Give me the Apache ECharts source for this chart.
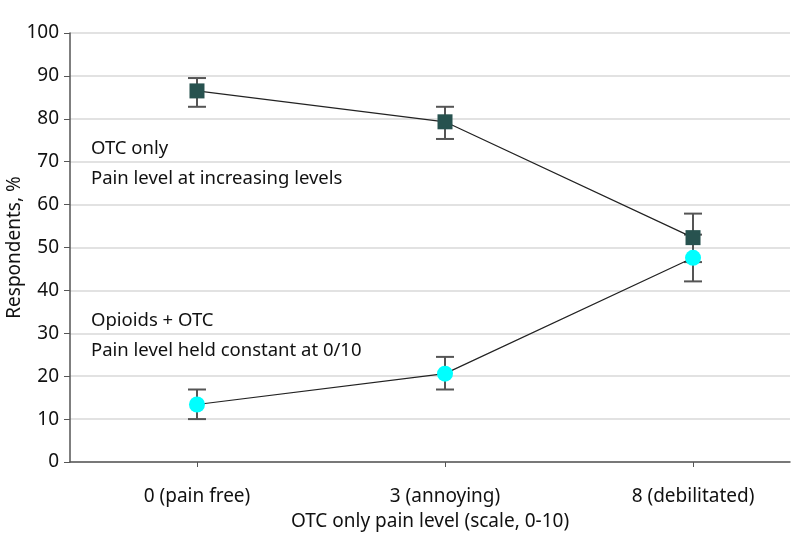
<!DOCTYPE html>
<html>
<head>
<meta charset="utf-8">
<script src="https://cdn.jsdelivr.net/npm/echarts@6/dist/echarts.min.js"></script>
<style>
  html, body { margin: 0; padding: 0; background: #fff; }
  #main { width: 798px; height: 548px; }
</style>
</head>
<body>
<div id="main"></div>
<script>
var categories = ['0 (pain free)', '3 (annoying)', '8 (debilitated)'];
var otcOnly = [86.5, 79.3, 52.3];
var otcLow = [82.8, 75.3, 46.6];
var otcHigh = [89.5, 82.8, 57.9];
var opioids = [13.4, 20.6, 47.6];
var opioidsLow = [10.0, 16.9, 42.1];
var opioidsHigh = [16.9, 24.5, 53.0];
var yTicks = [0, 10, 20, 30, 40, 50, 60, 70, 80, 90, 100];

var FONT = 'Noto Sans';
var SQUARE_COLOR = '#27524f';
var CIRCLE_COLOR = '#00ffff';

function toPoints(vals){
    return vals.map(function(v, i){ return [i, v]; });
}
function toBars(low, high){
    return low.map(function(v, i){ return [i, v, high[i]]; });
}

// error bar with caps
function renderErrorBar(params, api){
    var x = api.value(0);
    var lo = api.coord([x, api.value(1)]);
    var hi = api.coord([x, api.value(2)]);
    var half = 9;
    var style = { stroke: '#555', lineWidth: 2 };
    return {
        type: 'group',
        children: [
            { type: 'line', shape: { x1: lo[0], y1: lo[1], x2: hi[0], y2: hi[1] }, style: style },
            { type: 'line', shape: { x1: lo[0] - half, y1: lo[1], x2: lo[0] + half, y2: lo[1] }, style: style },
            { type: 'line', shape: { x1: hi[0] - half, y1: hi[1], x2: hi[0] + half, y2: hi[1] }, style: style }
        ]
    };
}

var chart = echarts.init(document.getElementById('main'));
var option = {
    animation: false,
    backgroundColor: '#fff',
    grid: { left: 70, right: 8, top: 33, bottom: 86, containLabel: false, outerBoundsMode: 'none' },
    xAxis: {
        type: 'value',
        min: -0.512,
        max: 2.391,
        name: 'OTC only pain level (scale, 0-10)',
        nameLocation: 'middle',
        nameGap: 50,
        nameMoveOverlap: false,
        nameTextStyle: { fontFamily: FONT, fontSize: 19, color: '#111' },
        axisLine: { show: true, onZero: false, lineStyle: { color: '#555', width: 1.5 } },
        axisTick: { show: true, customValues: [0, 1, 2], length: 5, inside: false, lineStyle: { color: '#555' } },
        axisLabel: {
            customValues: [0, 1, 2],
            formatter: function(v){ return categories[Math.round(v)]; },
            fontFamily: FONT, fontSize: 19, color: '#111', margin: 25
        },
        splitLine: { show: false }
    },
    yAxis: {
        type: 'value',
        min: 0,
        max: 100,
        interval: 10,
        name: 'Respondents, %',
        nameLocation: 'middle',
        nameGap: 46,
        nameMoveOverlap: false,
        nameTextStyle: { fontFamily: FONT, fontSize: 19, color: '#111' },
        axisLine: { show: true, onZero: false, lineStyle: { color: '#555', width: 1.5 } },
        axisTick: { show: true, length: 6, lineStyle: { color: '#555' } },
        axisLabel: {
            fontFamily: FONT, fontSize: 19, color: '#111', margin: 11,
            formatter: function(v){ return yTicks.indexOf(v) >= 0 ? String(v) : ''; }
        },
        splitLine: { show: true, lineStyle: { color: '#d9d9d9', width: 1.5 } }
    },
    series: [
        {
            type: 'custom',
            renderItem: renderErrorBar,
            data: toBars(otcLow, otcHigh),
            z: 2
        },
        {
            type: 'custom',
            renderItem: renderErrorBar,
            data: toBars(opioidsLow, opioidsHigh),
            z: 2
        },
        {
            name: 'OTC only',
            type: 'line',
            data: toPoints(otcOnly),
            symbol: 'rect',
            symbolSize: 15,
            itemStyle: { color: SQUARE_COLOR },
            lineStyle: { color: '#222', width: 1.2 },
            z: 3
        },
        {
            name: 'Opioids + OTC',
            type: 'line',
            data: toPoints(opioids),
            symbol: 'circle',
            symbolSize: 16,
            itemStyle: { color: CIRCLE_COLOR },
            lineStyle: { color: '#222', width: 1.2 },
            z: 3
        }
    ],
    graphic: [
        { type: 'text', left: 91, top: 139, style: { text: 'OTC only', font: '18.5px "Noto Sans"', fill: '#111' } },
        { type: 'text', left: 91, top: 169, style: { text: 'Pain level at increasing levels', font: '18.5px "Noto Sans"', fill: '#111' } },
        { type: 'text', left: 91, top: 311, style: { text: 'Opioids + OTC', font: '18.5px "Noto Sans"', fill: '#111' } },
        { type: 'text', left: 91, top: 341, style: { text: 'Pain level held constant at 0/10', font: '18.5px "Noto Sans"', fill: '#111' } }
    ]
};
chart.setOption(option);
</script>
</body>
</html>
